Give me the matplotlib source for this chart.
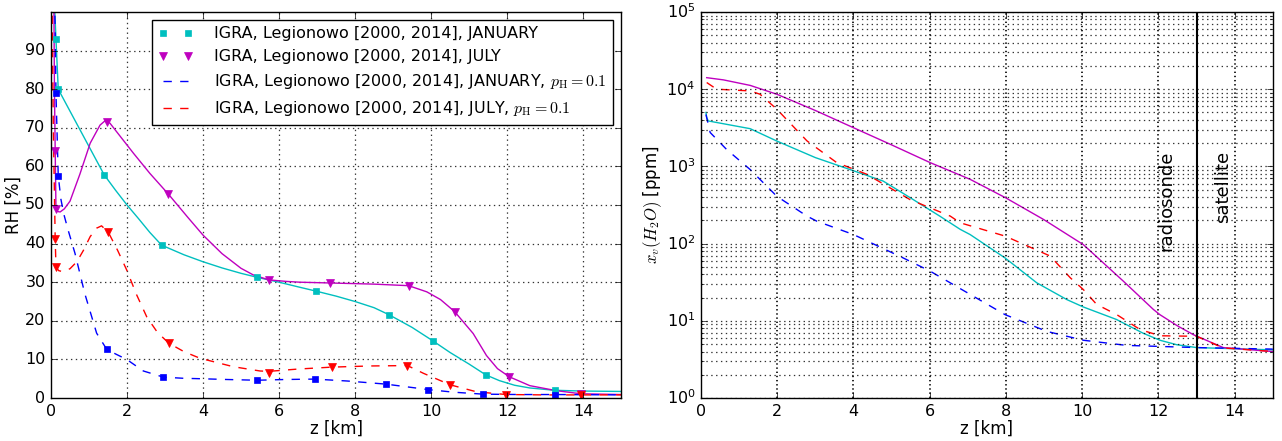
# -*- coding: utf-8 -*-

import matplotlib
matplotlib.use("Agg")
import matplotlib.pyplot as plt

# ---- left panel: RH [%] vs z [km] ----
# marker points
jan_mz = [0.13, 0.19, 1.40, 2.91, 5.41, 6.97, 8.89, 10.05, 11.44, 13.25]
jan_mrh = [93, 80, 57.8, 39.6, 31.3, 27.7, 21.6, 14.8, 6.0, 2.0]
jul_mz = [0.11, 0.13, 1.48, 3.09, 5.73, 7.34, 9.41, 10.62, 12.06, 13.94]
jul_mrh = [64, 49, 71.6, 52.8, 30.6, 29.8, 29.1, 22.4, 5.5, 1.1]
janp_mz = [0.13, 0.19, 1.46, 2.96, 5.42, 6.94, 8.81, 9.91, 11.37, 13.27]
janp_mrh = [79, 57.6, 12.7, 5.4, 4.6, 4.9, 3.6, 2.2, 1.0, 0.9]
julp_mz = [0.11, 0.13, 1.51, 3.10, 5.73, 7.39, 9.38, 10.51, 11.98, 13.94]
julp_mrh = [41.2, 34, 42.9, 14.2, 6.6, 8.0, 8.4, 3.4, 0.9, 0.8]

# curves
jan_z = [0.07, 0.10, 0.13, 0.19, 0.5, 0.8, 1.1, 1.4, 1.7, 2.0, 2.3, 2.6, 2.91,
         3.5, 4.0, 4.5, 5.0, 5.41, 6.0, 6.5, 6.97, 7.5, 8.0, 8.5, 8.89, 9.5,
         10.05, 10.5, 11.0, 11.44, 11.8, 12.2, 12.6, 13.25, 14.0, 15.0]
jan_rh = [110, 100, 93, 80, 74.3, 68.8, 63.3, 57.8, 53.8, 50.0, 46.5, 42.9, 39.6,
          37.1, 35.3, 33.7, 32.3, 31.3, 30.0, 28.8, 27.7, 26.4, 25.0, 23.4, 21.6, 18.3,
          14.8, 11.8, 8.8, 6.0, 4.5, 3.3, 2.6, 2.0, 1.8, 1.7]
jul_z = [0.07, 0.09, 0.11, 0.13, 0.18, 0.24, 0.35, 0.5, 0.76, 1.03, 1.29, 1.42,
         1.55, 2.17, 2.6, 3.09, 3.6, 4.0, 4.5, 5.0, 5.32, 5.73, 6.2, 6.55, 7.34,
         8.5, 9.41, 9.89, 10.25, 10.62, 11.11, 11.46, 11.75, 12.06, 12.6, 13.3,
         13.94, 15.0]
jul_rh = [110, 80, 64, 49, 48.3, 48.2, 49, 51, 58, 66, 70.7, 71.8,
          71.2, 63.4, 58.2, 52.8, 46.8, 42.2, 37.4, 33.6, 31.9, 30.6, 30.2, 30.0,
          29.8, 29.5, 29.1, 27.5, 25.5, 22.4, 16.7, 11.0, 7.6, 5.5, 3.2, 1.9,
          1.1, 0.9]
janp_z = [0.08, 0.11, 0.13, 0.19, 0.26, 0.34, 0.45, 0.63, 0.89, 1.2, 1.46, 1.7,
          1.99, 2.43, 2.96, 3.5, 3.92, 4.6, 5.42, 6.2, 6.94, 7.8, 8.81, 9.91,
          10.6, 11.37, 12.3, 13.27, 15.0]
janp_rh = [110, 95, 79, 57.6, 51.5, 47.5, 43.5, 37.5, 27, 16.8, 12.7, 11.4,
           10.0, 7.0, 5.4, 5.1, 5.0, 4.8, 4.6, 4.8, 4.9, 4.4, 3.6, 2.2,
           1.5, 1.0, 0.9, 0.9, 0.8]
julp_z = [0.02, 0.06, 0.11, 0.13, 0.2, 0.32, 0.5, 0.68, 0.85, 1.03, 1.2, 1.33,
          1.51, 1.75, 1.99, 2.25, 2.52, 2.8, 3.1, 3.5, 3.92, 4.8, 5.5, 5.73,
          6.5, 7.39, 8.4, 9.38, 9.8, 10.51, 11.2, 11.98, 13.0, 13.94, 15.0]
julp_rh = [110, 70, 41.2, 34, 33, 32.7, 33.5, 35.3, 38.2, 41.8, 44.0, 44.6,
           42.9, 38.3, 33.2, 26.8, 21, 17.0, 14.2, 12.0, 10.3, 8.1, 7.0, 6.9,
           7.5, 8.0, 8.3, 8.4, 6.4, 3.4, 1.6, 0.9, 0.8, 0.8, 0.8]

# ---- right panel: x_v(H2O) [ppm] vs z [km] ----
rjul_z = [0.15, 0.59, 1.29, 1.99, 3.0, 4.0, 5.0, 6.01, 7.06, 8.0, 8.99, 10.03,
          11.08, 11.87, 12.04, 12.5, 12.92, 13.7, 15.0]
rjul_x = [14100, 13200, 11200, 8600, 5300, 3170, 1900, 1120, 680, 390, 205, 97,
          32.6, 14, 12, 8.6, 6.6, 4.5, 4.0]
rjan_z = [0.13, 0.15, 0.19, 1.29, 1.99, 3.0, 3.91, 4.78, 5.5, 6.27, 6.8, 7.06,
          7.98, 8.81, 9.6, 10.03, 10.9, 11.6, 12.04, 12.48, 13.0, 15.0]
rjan_x = [5000, 4300, 3880, 3080, 2130, 1300, 910, 645, 390, 226, 153, 131,
          65, 31, 18.8, 15.1, 10.4, 6.9, 5.6, 4.9, 4.5, 4.2]
rjulp_z = [0.15, 0.41, 1.29, 1.55, 1.99, 2.78, 3.56, 4.35, 5.49, 6.54, 6.8,
           7.98, 9.16, 9.69, 10.03, 10.38, 10.91, 11.52, 12.04, 13.0, 13.7, 15.0]
rjulp_x = [12200, 10000, 9500, 8600, 5500, 2140, 1120, 790, 370, 227, 186,
           125, 69, 36, 25.4, 16.3, 12, 7.7, 6.4, 6.3, 4.45, 4.0]
rjanp_z = [0.13, 0.15, 0.24, 0.67, 1.29, 1.99, 2.78, 3.04, 4.0, 5.31, 6.01,
           7.06, 7.98, 9.07, 10.03, 11.17, 13.0, 15.0]
rjanp_x = [4700, 4270, 2750, 1660, 910, 410, 227, 195, 131, 65, 44,
           22, 12, 7.3, 5.6, 4.8, 4.5, 4.3]

z_ticks = [0, 2, 4, 6, 8, 10, 12, 14]

plt.style.use("classic")
plt.rcParams["figure.facecolor"] = "white"
plt.rcParams["savefig.facecolor"] = "white"

fig = plt.figure(figsize=(12.82, 4.41), dpi=100)
ax1 = fig.add_axes([0.0398, 0.0975, 0.4446, 0.8753])
ax2 = fig.add_axes([0.5468, 0.0975, 0.446, 0.8753])

grid_kw = dict(color="k", linestyle=(0, (1, 2.5)), linewidth=0.9, alpha=0.8)
vgrid_kw = dict(color="k", linestyle=(0, (1, 2)), linewidth=1.2, snap=True)

lbl = "IGRA, Legionowo [2000, 2014], "
ph = r", $p_{\rm H}=0.1$"

ax1.plot(jan_z, jan_rh, "c-", lw=1)
ax1.plot(jul_z, jul_rh, "m-", lw=1)
ax1.plot(janp_z, janp_rh, "b--", lw=1, label=lbl + "JANUARY" + ph)
ax1.plot(julp_z, julp_rh, "r--", lw=1, label=lbl + "JULY" + ph)
ax1.plot(jan_mz, jan_mrh, "cs", ms=5, mec="c", label=lbl + "JANUARY")
ax1.plot(jul_mz, jul_mrh, "mv", ms=6, mec="m", label=lbl + "JULY")
ax1.plot(janp_mz, janp_mrh, "bs", ms=5, mec="b")
ax1.plot(julp_mz, julp_mrh, "rv", ms=6, mec="r")

ax1.set_xlim(0, 15)
ax1.set_ylim(0, 100)
ax1.set_xticks(z_ticks)
ax1.set_yticks(range(0, 100, 10))
ax1.set_xlabel("z [km]", fontsize=12, labelpad=1)
ax1.set_ylabel("RH [%]", fontsize=12, labelpad=2)
ax1.tick_params(labelsize=11.5)
for v in z_ticks[1:]:
    ax1.axvline(v, zorder=0, **grid_kw)
for v in range(10, 100, 10):
    ax1.axhline(v, zorder=0, **grid_kw)

h, l = ax1.get_legend_handles_labels()
order = [2, 3, 0, 1]
ax1.legend([h[i] for i in order], [l[i] for i in order], loc="upper right",
           fontsize=11.5, numpoints=2, handlelength=2.2, handletextpad=1.3,
           borderaxespad=0.5)

ax2.set_yscale("log")
ax2.set_xlim(0, 15)
ax2.set_ylim(1, 1e5)
for v in z_ticks[1:]:
    ax2.axvline(v, zorder=1, **vgrid_kw)
ax2.plot(rjan_z, rjan_x, "c-", lw=1)
ax2.plot(rjul_z, rjul_x, "m-", lw=1)
ax2.plot(rjanp_z, rjanp_x, "b--", lw=1)
ax2.plot(rjulp_z, rjulp_x, "r--", lw=1)
ax2.axvline(13, color="k", lw=1.5)
ax2.text(12.2, 1600, "radiosonde", rotation=90, ha="center", va="top", fontsize=13)
ax2.text(13.7, 1600, "satellite", rotation=90, ha="center", va="top", fontsize=13)

ax2.set_xticks(z_ticks)
ax2.set_xlabel("z [km]", fontsize=12, labelpad=1)
ax2.set_ylabel(r"$x_v(H_2O)$ [ppm]", fontsize=12, labelpad=2)
ax2.tick_params(labelsize=11.5)
ax2.grid(True, which="both", axis="y", **grid_kw)

fig.savefig("out.png", dpi=100)
